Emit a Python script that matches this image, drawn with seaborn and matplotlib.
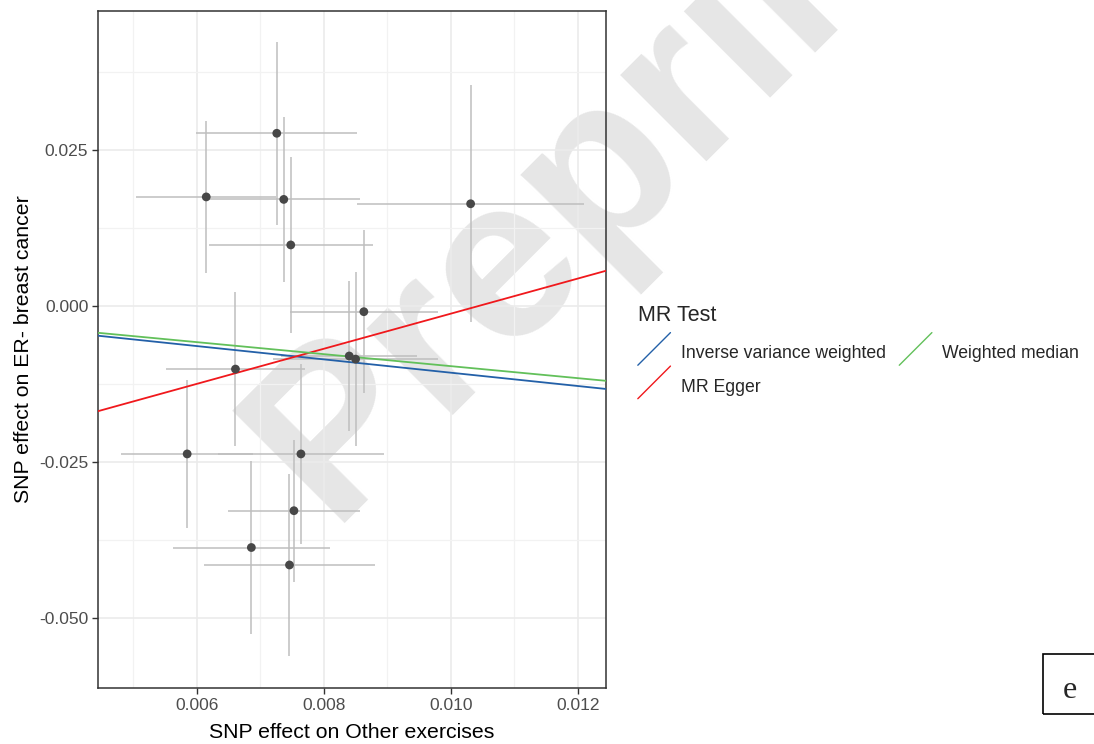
import numpy as np
import pandas as pd
import matplotlib
matplotlib.use("Agg")
import matplotlib.pyplot as plt
import seaborn as sns
from matplotlib.lines import Line2D
from matplotlib.legend_handler import HandlerBase
from matplotlib.patches import Rectangle
from matplotlib.ticker import MultipleLocator, FuncFormatter

# SNP-level effects (exposure: Other exercises, outcome: ER- breast cancer)
beta_exposure = [0.00726, 0.00615, 0.00737, 0.00748, 0.01031, 0.00863, 0.00840,
                 0.00850, 0.00661, 0.00585, 0.00764, 0.00753, 0.00686, 0.00746]
beta_outcome = [0.0277, 0.0175, 0.0171, 0.0098, 0.0164, -0.0009, -0.0080,
                -0.0085, -0.0101, -0.0237, -0.0237, -0.0328, -0.0387, -0.0415]
se_exposure = [0.00127, 0.00110, 0.00120, 0.00129, 0.00178, 0.00116, 0.00107,
               0.00130, 0.00109, 0.00104, 0.00130, 0.00104, 0.00124, 0.00134]
se_outcome = [0.0147, 0.0122, 0.0132, 0.0141, 0.0190, 0.0131, 0.0120,
              0.0139, 0.0123, 0.0118, 0.0144, 0.0114, 0.0139, 0.0146]

# MR method estimates (regression lines)
methods = ["Inverse variance weighted", "MR Egger", "Weighted median"]
method_intercepts = [0.0, -0.02937, 0.0]
method_slopes = [-1.068, 2.816, -0.963]
method_colors = ["#2360a8", "#f0181c", "#62c05a"]

df = pd.DataFrame({"bx": beta_exposure, "by": beta_outcome,
                   "sx": se_exposure, "sy": se_outcome})

sns.set_style("white")
plt.rcParams["font.family"] = ["Liberation Sans", "DejaVu Sans"]

W, H = 1094, 744
fig = plt.figure(figsize=(W / 100, H / 100), dpi=100)
fig.patch.set_facecolor("white")

# Diagonal "Preprint" mark behind the plot
fig.text(330 / W, 1 - 523 / H, "Preprint", rotation=45, rotation_mode="anchor",
         ha="left", va="baseline", fontsize=166, fontweight="bold",
         color="#e6e6e6", zorder=-5)

ax = fig.add_axes([98 / W, 1 - 688 / H, 508 / W, 677 / H])
ax.set_facecolor("none")

ax.set_xlim(0.004447, 0.01244)
ax.set_ylim(-0.06122, 0.0473)
ax.xaxis.set_major_locator(MultipleLocator(0.002))
ax.xaxis.set_minor_locator(MultipleLocator(0.001))
ax.yaxis.set_major_locator(MultipleLocator(0.025))
ax.yaxis.set_minor_locator(MultipleLocator(0.0125))
ax.grid(True, which="major", color="#ebebeb", lw=1.2, zorder=0)
ax.grid(True, which="minor", color="#f2f2f2", lw=0.9, zorder=0)
ax.set_axisbelow(True)
ax.xaxis.set_major_formatter(FuncFormatter(lambda v, p: f"{v:.3f}"))
ax.yaxis.set_major_formatter(FuncFormatter(lambda v, p: f"{v:.3f}"))

for s in ax.spines.values():
    s.set_color("#333333")
    s.set_linewidth(1.1)
ax.tick_params(axis="both", which="major", direction="out", length=4, width=1.0,
               color="#333333", labelcolor="#4d4d4d", labelsize=12.5, pad=3,
               bottom=True, left=True)
ax.tick_params(axis="both", which="minor", length=0)

# error bars
ax.errorbar(df["bx"], df["by"], xerr=df["sx"], yerr=df["sy"], fmt="none",
            ecolor="#bebebe", elinewidth=1.1, capsize=0, zorder=2)
sns.scatterplot(data=df, x="bx", y="by", ax=ax, color="#474747", s=40,
                edgecolor="none", zorder=4, legend=False)

handles = []
for name, a, b, c in zip(methods, method_intercepts, method_slopes, method_colors):
    ax.axline((0.0, a), slope=b, color=c, lw=1.3, zorder=3)
    handles.append(Line2D([], [], color=c, lw=1.0, label=name))

ax.set_xlabel("SNP effect on Other exercises", fontsize=15.3, color="black", labelpad=7.5)
ax.set_ylabel("SNP effect on ER- breast cancer", fontsize=15.3, color="black", labelpad=4)


class DiagonalKey(HandlerBase):
    def create_artists(self, legend, orig_handle, xdescent, ydescent, width,
                       height, fontsize, trans):
        ln = Line2D([-xdescent, -xdescent + width], [-ydescent, height],
                    color=orig_handle.get_color(), lw=orig_handle.get_linewidth())
        ln.set_transform(trans)
        return [ln]


leg = fig.legend(handles=handles, labels=methods, title="MR Test", ncol=2,
                 loc="upper left", bbox_to_anchor=(629 / W, 1 - 296 / H),
                 frameon=False, fontsize=12.7, title_fontsize=15.5,
                 handler_map={Line2D: DiagonalKey()}, handlelength=1.85,
                 handleheight=1.85, handletextpad=0.6, columnspacing=0.75,
                 labelspacing=0.45, borderpad=0, alignment="left")
leg._legend_box.sep = 10

# panel tag box
fig.patches.append(Rectangle((1043 / W, 1 - 714 / H), 0.2, 60 / H,
                             transform=fig.transFigure, fill=False,
                             edgecolor="black", lw=1.2))
fig.text(1070 / W, 1 - 690 / H, "e", fontsize=23, family="Liberation Serif",
         ha="center", va="center")

fig.savefig("out.png", dpi=100)
